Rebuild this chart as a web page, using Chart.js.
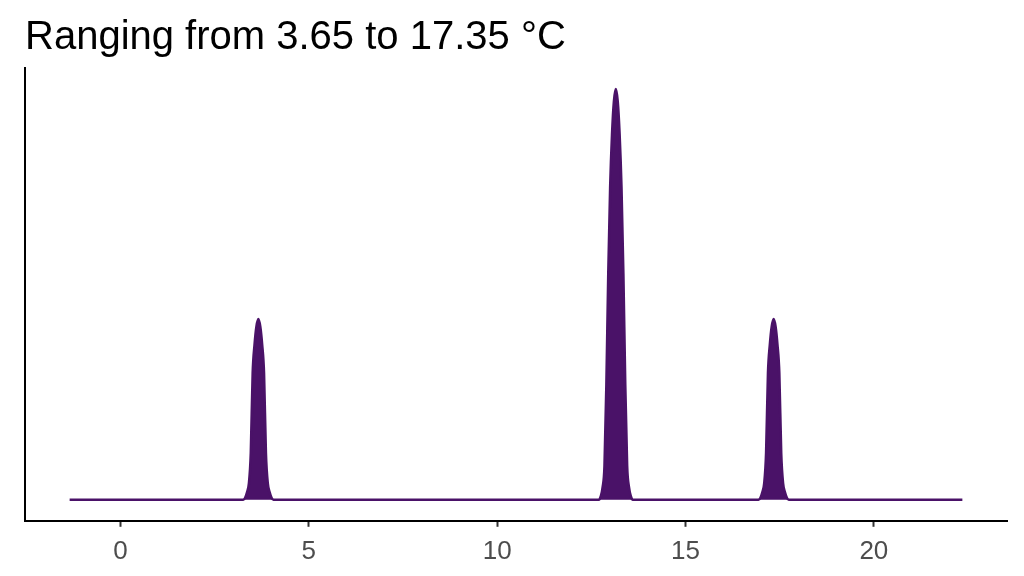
<!DOCTYPE html>
<html>
<head>
<meta charset="utf-8">
<script src="https://cdn.jsdelivr.net/npm/chart.js@4"></script>
<style>
  html, body { margin: 0; padding: 0; background: #fff; }
  #wrap { width: 1024px; height: 576px; }
</style>
</head>
<body>
<div id="wrap"><canvas id="chart" width="1024" height="576"></canvas></div>
<script>
// ========================
// DATA
// ========================
const titleText = "Ranging from 3.65 to 17.35 °C";
const tickValues = [0, 5, 10, 15, 20];

// density curve (x in °C, y in relative density)
const densityX = [
  -1.35,
  3.26, 3.31, 3.36, 3.41, 3.46, 3.51, 3.56, 3.61, 3.66, 3.71, 3.76, 3.81, 3.86, 3.91, 3.96, 4.01, 4.06,
  12.70, 12.75, 12.80, 12.85, 12.90, 12.95, 13.00, 13.05, 13.10, 13.15, 13.20, 13.25, 13.30, 13.35, 13.40, 13.45, 13.50, 13.55, 13.60,
  16.94, 16.99, 17.04, 17.09, 17.14, 17.19, 17.24, 17.29, 17.34, 17.39, 17.44, 17.49, 17.54, 17.59, 17.64, 17.69, 17.74,
  22.35
];
const densityY = [
  0,
  0, 0.005, 0.018, 0.04, 0.114, 0.308, 0.378, 0.422, 0.44, 0.422, 0.378, 0.308, 0.114, 0.04, 0.018, 0.005, 0,
  0, 0.008, 0.03, 0.083, 0.28, 0.55, 0.76, 0.89, 0.97, 1.0, 0.97, 0.89, 0.76, 0.55, 0.28, 0.083, 0.03, 0.008, 0,
  0, 0.005, 0.018, 0.04, 0.114, 0.308, 0.378, 0.422, 0.44, 0.422, 0.378, 0.308, 0.114, 0.04, 0.018, 0.005, 0,
  0
];

const purple = "#4a1268";

// ========================
// CHART
// ========================
const points = densityX.map((x, i) => ({ x: x, y: densityY[i] }));

new Chart(document.getElementById("chart").getContext("2d"), {
  type: "line",
  data: {
    datasets: [{
      data: points,
      borderColor: purple,
      backgroundColor: purple,
      borderWidth: 2.6,
      pointRadius: 0,
      fill: "origin",
      cubicInterpolationMode: "monotone",
    }],
  },
  options: {
    responsive: false,
    animation: false,
    layout: { padding: { left: 25, right: 17, top: 0, bottom: 0 } },
    plugins: {
      legend: { display: false },
      tooltip: { enabled: false },
      title: {
        display: true,
        text: titleText,
        align: "start",
        color: "#000",
        font: { family: "Liberation Sans", size: 40, weight: "normal" },
        padding: { top: 14, bottom: 6 },
      },
    },
    scales: {
      x: {
        type: "linear",
        min: -2.535,
        max: 23.535,
        afterBuildTicks: (axis) => { axis.ticks = tickValues.map((v) => ({ value: v })); },
        grid: { display: true, drawOnChartArea: false, tickLength: 6, tickColor: "#333", tickWidth: 2 },
        border: { display: true, color: "#000", width: 2 },
        ticks: {
          color: "#4d4d4d",
          padding: 9,
          maxRotation: 0,
          font: { family: "Liberation Sans", size: 26 },
        },
      },
      y: {
        min: -0.0512,
        max: 1.0512,
        grid: { display: false, drawTicks: false },
        border: { display: true, color: "#000", width: 2 },
        ticks: { display: false },
      },
    },
  },
});
</script>
</body>
</html>
